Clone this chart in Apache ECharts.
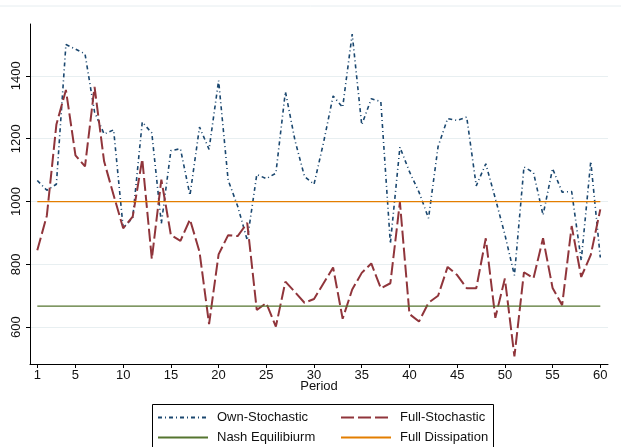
<!DOCTYPE html>
<html>
<head>
<meta charset="utf-8">
<script src="https://cdn.jsdelivr.net/npm/echarts@6/dist/echarts.min.js"></script>
<style>
html,body{margin:0;padding:0;background:#fff;}
#chart{width:621px;height:447px;}
</style>
</head>
<body>
<div id="chart"></div>
<script>
// Periods 1..60
const periods = [1,2,3,4,5,6,7,8,9,10,11,12,13,14,15,16,17,18,19,20,21,22,23,24,25,26,27,28,29,30,31,32,33,34,35,36,37,38,39,40,41,42,43,44,45,46,47,48,49,50,51,52,53,54,55,56,57,58,59,60];
const ownStochastic = [1067,1036,1055,1500,1485,1470,1285,1215,1228,916,948,1253,1218,930,1162,1168,1020,1237,1166,1385,1068,985,877,1086,1073,1090,1350,1195,1080,1055,1188,1336,1300,1533,1244,1327,1318,866,1173,1095,1030,947,1175,1264,1258,1269,1050,1120,1010,895,765,1110,1092,957,1105,1030,1032,812,1128,822];
const fullStochastic = [845,955,1245,1355,1147,1112,1365,1128,1020,915,952,1135,817,1070,893,875,943,840,610,832,893,890,932,655,677,602,745,712,678,690,740,790,627,720,773,803,724,740,998,642,618,678,700,792,766,724,724,883,630,755,507,775,756,883,725,670,922,760,830,975];
const nashEquilibrium = 667;
const fullDissipation = 1000;
const xTickLabels = [1,5,10,15,20,25,30,35,40,45,50,55,60];
const yTickLabels = [600,800,1000,1200,1400];
const seriesNames = ['Own-Stochastic','Full-Stochastic','Nash Equilibiurm','Full Dissipation'];

const FONT = '"Liberation Sans", Arial, sans-serif';
const pair = (vals) => periods.map((p, i) => [p, vals[i]]);
const flat = (v) => [[periods[0], v], [periods[periods.length - 1], v]];

const legendCommon = {
  orient: 'vertical',
  itemWidth: 50, itemHeight: 14, itemGap: 7,
  padding: 0,
  itemStyle: {opacity: 0},
  textStyle: {fontSize: 13, color: '#111', padding: [0,0,0,4], fontFamily: FONT},
  selectedMode: false
};

const chart = echarts.init(document.getElementById('chart'), null, {renderer: 'canvas'});
chart.setOption({
  backgroundColor: '#ffffff',
  animation: false,
  textStyle: {fontFamily: FONT},
  graphic: [
    {type: 'line', shape: {x1: 0, y1: 6, x2: 621, y2: 6},
     style: {stroke: '#e6edf0', lineWidth: 1}, silent: true},
    {type: 'rect', shape: {x: 152.5, y: 404.5, width: 341, height: 60},
     style: {fill: 'none', stroke: '#000', lineWidth: 1}, silent: true}
  ],
  grid: {left: 30, right: 13, top: 24, bottom: 83, containLabel: false},
  xAxis: {
    type: 'value', min: 0.235, max: 60.807,
    name: 'Period', nameLocation: 'middle', nameGap: 16, nameMoveOverlap: false,
    nameTextStyle: {fontSize: 13, color: '#111', fontFamily: FONT},
    axisLine: {show: true, onZero: false, lineStyle: {color: '#000', width: 1}},
    axisTick: {show: true, length: 4, customValues: xTickLabels, lineStyle: {color: '#000'}},
    axisLabel: {customValues: xTickLabels, fontSize: 13, color: '#111', margin: 5, fontFamily: FONT},
    splitLine: {show: false}
  },
  yAxis: {
    type: 'value', min: 483, max: 1565,
    axisLine: {show: true, onZero: false, lineStyle: {color: '#000', width: 1}},
    axisTick: {show: true, length: 4, customValues: yTickLabels, lineStyle: {color: '#000'}},
    axisLabel: {customValues: yTickLabels, rotate: 90, fontSize: 13, color: '#111', margin: 7,
                fontFamily: FONT, formatter: (v) => String(v)},
    splitLine: {show: true, lineStyle: {color: '#e8eff1', width: 1}}
  },
  legend: [
    Object.assign({}, legendCommon, {data: [seriesNames[0], seriesNames[2]], left: 157, top: 411}),
    Object.assign({}, legendCommon, {data: [seriesNames[1], seriesNames[3]], left: 340, top: 411})
  ],
  series: [
    {name: seriesNames[0], type: 'line', data: pair(ownStochastic), symbol: 'none',
     lineStyle: {color: '#1a476f', width: 1.6, type: [4,3,1,3]}, itemStyle: {color: '#1a476f'}},
    {name: seriesNames[1], type: 'line', data: pair(fullStochastic), symbol: 'none',
     lineStyle: {color: '#90353b', width: 2, type: [13,4]}, itemStyle: {color: '#90353b'}},
    {name: seriesNames[2], type: 'line', data: flat(nashEquilibrium), symbol: 'none',
     lineStyle: {color: '#55752f', width: 1.2}, itemStyle: {color: '#55752f'}},
    {name: seriesNames[3], type: 'line', data: flat(fullDissipation), symbol: 'none',
     lineStyle: {color: '#e37e00', width: 1.2}, itemStyle: {color: '#e37e00'}}
  ]
});
</script>
</body>
</html>
